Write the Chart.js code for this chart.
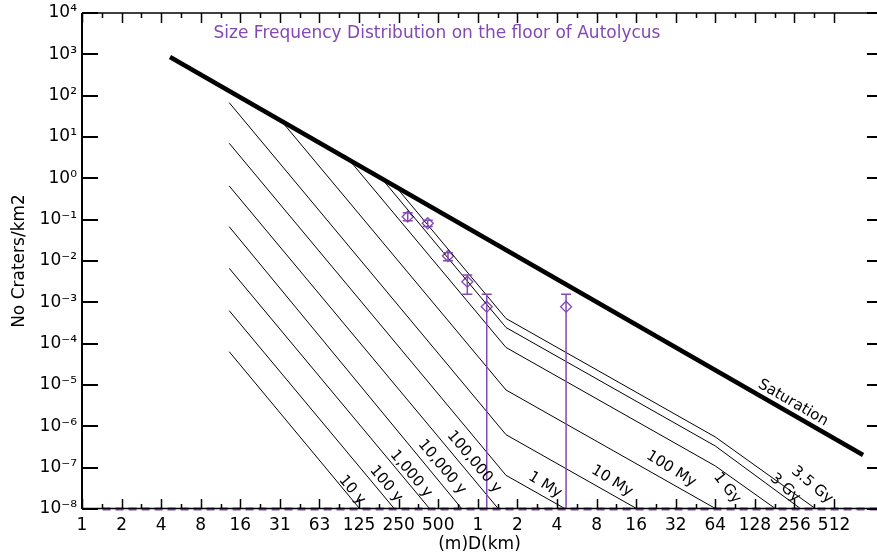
<!DOCTYPE html>
<html>
<head>
<meta charset="utf-8">
<title>Size Frequency Distribution on the floor of Autolycus</title>
<script src="https://cdn.jsdelivr.net/npm/chart.js@4.4.0/dist/chart.umd.min.js"></script>
<style>
  html, body { margin: 0; padding: 0; background: #fff; }
  #sfd { display: block; }
</style>
</head>
<body>
<canvas id="sfd" width="877" height="558"></canvas>
<script>
// crater diameter in km on x, cumulative craters per km2 on y

// axis ticks
var xTickKm = [1/1024, 1/512, 1/256, 1/128, 1/64, 1/32, 1/16, 1/8, 1/4, 1/2, 1, 2, 4, 8, 16, 32, 64, 128, 256, 512];
var xTickLabels = ['1', '2', '4', '8', '16', '31', '63', '125', '250', '500', '1', '2', '4', '8', '16', '32', '64', '128', '256', '512'];
var yTickValues = [1e-8, 1e-7, 1e-6, 1e-5, 1e-4, 1e-3, 1e-2, 1e-1, 1, 10, 100, 1000, 10000];
var yTickLabels = ['10⁻⁸', '10⁻⁷', '10⁻⁶', '10⁻⁵', '10⁻⁴', '10⁻³', '10⁻²', '10⁻¹', '10⁰', '10¹', '10²', '10³', '10⁴'];

// saturation equilibrium
var satD = [0.00456, 851];
var satN = [863, 2.03e-7];

// isochrons
var iso10yD = [0.01286, 0.1269];
var iso10yN = [6.4e-5, 1e-8];
var iso100yD = [0.01286, 0.2328];
var iso100yN = [6.28e-4, 1e-8];
var iso1kyD = [0.01286, 0.432];
var iso1kyN = [6.67e-3, 1e-8];
var iso10kyD = [0.01286, 0.758];
var iso10kyN = [0.0676, 1e-8];
var iso100kyD = [0.01286, 1.437];
var iso100kyN = [0.653, 1e-8];
var iso1MyD = [0.01286, 1.638, 4.65];
var iso1MyN = [7.05, 6.53e-8, 1e-8];
var iso10MyD = [0.01286, 1.638, 16.34];
var iso10MyN = [67.7, 6.28e-7, 1e-8];
var iso100MyD = [0.0314, 1.638, 64];
var iso100MyN = [26.5, 7.57e-6, 1.03e-8];
var iso1GyD = [0.0977, 1.638, 64, 185];
var iso1GyN = [3.7, 8.09e-5, 1.1e-7, 1e-8];
var iso3GyD = [0.187, 1.638, 64, 287];
var iso3GyN = [0.964, 2.46e-4, 3.34e-7, 1e-8];
var iso35GyD = [0.243, 1.638, 64, 373];
var iso35GyN = [0.58, 4.06e-4, 5.52e-7, 1e-8];

// counted craters on the floor (0 = lower bar runs off the axis)
var obsD = [0.293, 0.416, 0.593, 0.832, 1.169, 4.69];
var obsN = [0.118, 0.0819, 0.0132, 3.16e-3, 7.85e-4, 7.85e-4];
var obsHi = [0.148, 0.097, 0.0159, 4.59e-3, 1.57e-3, 1.57e-3];
var obsLo = [0.094, 0.0686, 0.0102, 1.57e-3, 0, 0];

// empty bins lying on the bottom axis
var emptyD = [0.0014, 1086];
var emptyN = [1e-8, 1e-8];

var purple = '#8448b4';
var font = '"DejaVu Sans", "Liberation Sans", sans-serif';

function pts(D, N) {
  return D.map(function (d, i) { return { x: d, y: N[i] }; });
}

function curve(D, N, width) {
  return {
    data: pts(D, N),
    borderColor: '#000',
    borderWidth: width,
    pointRadius: 0,
    tension: 0,
    fill: false
  };
}

// where the curve names are written, in data units
var curveLabels = [
  { text: '10 y', D: 0.1104, N: 2.88e-8, angle: 50 },
  { text: '100 y', D: 0.2004, N: 4.03e-8, angle: 50 },
  { text: '1,000 y', D: 0.310, N: 7.03e-8, angle: 50 },
  { text: '10,000 y', D: 0.534, N: 1.04e-7, angle: 50 },
  { text: '100,000 y', D: 0.936, N: 1.37e-7, angle: 50 },
  { text: '1 My', D: 3.24, N: 3.81e-8, angle: 32 },
  { text: '10 My', D: 10.49, N: 4.76e-8, angle: 32 },
  { text: '100 My', D: 29.5, N: 9.29e-8, angle: 32 },
  { text: '1 Gy', D: 78.6, N: 3.22e-8, angle: 52 },
  { text: '3 Gy', D: 217, N: 3.22e-8, angle: 42 },
  { text: '3.5 Gy', D: 348, N: 3.81e-8, angle: 40 },
  { text: 'Saturation', D: 250, N: 3.67e-6, angle: 30 }
];

var errorBars = {
  id: 'errorBars',
  afterDatasetsDraw: function (chart) {
    var ctx = chart.ctx, xs = chart.scales.x, ys = chart.scales.y, area = chart.chartArea;
    ctx.save();
    ctx.strokeStyle = purple;
    ctx.lineWidth = 1.5;
    obsD.forEach(function (d, i) {
      var x = xs.getPixelForValue(d);
      var top = ys.getPixelForValue(obsHi[i]);
      var bot = obsLo[i] > 0 ? ys.getPixelForValue(obsLo[i]) : area.bottom;
      ctx.beginPath();
      ctx.moveTo(x, top); ctx.lineTo(x, bot);
      ctx.moveTo(x - 5, top); ctx.lineTo(x + 5, top);
      if (obsLo[i] > 0) { ctx.moveTo(x - 5, bot); ctx.lineTo(x + 5, bot); }
      ctx.stroke();
    });
    ctx.restore();
  }
};

var frame = {
  id: 'frame',
  afterDatasetsDraw: function (chart) {
    var ctx = chart.ctx, xs = chart.scales.x, ys = chart.scales.y, a = chart.chartArea;
    ctx.save();
    ctx.strokeStyle = '#000';
    // axis lines
    ctx.lineWidth = 2;
    ctx.beginPath();
    ctx.moveTo(a.left, a.top); ctx.lineTo(a.left, a.bottom);
    ctx.stroke();
    ctx.lineWidth = 1.5;
    ctx.beginPath();
    ctx.moveTo(a.left, a.bottom - 0.5); ctx.lineTo(a.right, a.bottom - 0.5);
    ctx.moveTo(a.left, a.top); ctx.lineTo(a.right, a.top);
    ctx.stroke();
    // x ticks, top and bottom
    ctx.lineWidth = 1.5;
    ctx.beginPath();
    xTickKm.forEach(function (v, i) {
      var x = Math.round(xs.getPixelForValue(v)) + 0.5;
      ctx.moveTo(x, a.bottom); ctx.lineTo(x, a.bottom - 10);
      ctx.moveTo(x, a.top); ctx.lineTo(x, a.top + 10);
      if (i < xTickKm.length - 1) {
        var m = Math.round(xs.getPixelForValue(Math.sqrt(v * xTickKm[i + 1]))) + 0.5;
        ctx.moveTo(m, a.bottom); ctx.lineTo(m, a.bottom - 5);
        ctx.moveTo(m, a.top); ctx.lineTo(m, a.top + 5);
      }
    });
    ctx.stroke();
    // y ticks, left and right
    ctx.lineWidth = 2;
    ctx.beginPath();
    yTickValues.forEach(function (v) {
      var y = Math.round(ys.getPixelForValue(v));
      ctx.moveTo(a.left, y); ctx.lineTo(a.left + 16, y);
      ctx.moveTo(a.right - 10, y); ctx.lineTo(a.right, y);
    });
    ctx.stroke();

    // title inside the plot
    ctx.fillStyle = purple;
    ctx.font = '17px ' + font;
    ctx.textAlign = 'center';
    ctx.textBaseline = 'alphabetic';
    ctx.fillText('Size Frequency Distribution on the floor of Autolycus', a.left + 355, a.top + 25);

    // curve names
    ctx.fillStyle = '#000';
    ctx.font = '15px ' + font;
    ctx.textBaseline = 'middle';
    curveLabels.forEach(function (l) {
      ctx.save();
      ctx.translate(xs.getPixelForValue(l.D), ys.getPixelForValue(l.N));
      ctx.rotate(l.angle * Math.PI / 180);
      ctx.fillText(l.text, 0, 0);
      ctx.restore();
    });
    ctx.restore();
  }
};

var datasets = [
  {
    data: pts(emptyD, emptyN),
    borderColor: purple,
    borderWidth: 3,
    borderDash: [8, 5],
    clip: 3,
    pointRadius: 0,
    fill: false
  },
  curve(satD, satN, 4.5),
  curve(iso10yD, iso10yN, 1),
  curve(iso100yD, iso100yN, 1),
  curve(iso1kyD, iso1kyN, 1),
  curve(iso10kyD, iso10kyN, 1),
  curve(iso100kyD, iso100kyN, 1),
  curve(iso1MyD, iso1MyN, 1),
  curve(iso10MyD, iso10MyN, 1),
  curve(iso100MyD, iso100MyN, 1),
  curve(iso1GyD, iso1GyN, 1),
  curve(iso3GyD, iso3GyN, 1),
  curve(iso35GyD, iso35GyN, 1),
  {
    data: pts(obsD, obsN),
    showLine: false,
    pointStyle: 'rectRot',
    pointRadius: 5.5,
    pointBorderWidth: 1.3,
    pointBorderColor: purple,
    pointBackgroundColor: 'rgba(0,0,0,0)',
    borderColor: purple
  }
];

new Chart(document.getElementById('sfd'), {
  type: 'line',
  data: { datasets: datasets },
  plugins: [errorBars, frame],
  options: {
    responsive: false,
    animation: false,
    devicePixelRatio: 1,
    layout: { autoPadding: false, padding: { top: 13, right: 0, bottom: 0, left: 0 } },
    plugins: { legend: { display: false }, tooltip: { enabled: false } },
    scales: {
      x: {
        type: 'logarithmic',
        min: 1 / 1024,
        max: 1086,
        grid: { display: false, drawTicks: false },
        border: { display: false },
        afterBuildTicks: function (scale) {
          scale.ticks = xTickKm.map(function (v) { return { value: v }; });
        },
        afterFit: function (scale) {
          scale.height = 49;
          scale.paddingLeft = 0;
          scale.paddingRight = 0;
        },
        ticks: {
          autoSkip: false,
          maxRotation: 0,
          padding: 6,
          color: '#000',
          font: { family: font, size: 17 },
          callback: function (value, index) { return xTickLabels[index]; }
        },
        title: {
          display: true,
          text: '(m)D(km)',
          color: '#000',
          font: { family: font, size: 17 },
          padding: { top: 0, bottom: 3 }
        }
      },
      y: {
        type: 'logarithmic',
        min: 1e-8,
        max: 1e4,
        grid: { display: false, drawTicks: false },
        border: { display: false },
        afterBuildTicks: function (scale) {
          scale.ticks = yTickValues.map(function (v) { return { value: v }; });
        },
        afterFit: function (scale) {
          scale.width = 82;
          scale.paddingTop = 0;
          scale.paddingBottom = 0;
        },
        ticks: {
          autoSkip: false,
          padding: 5,
          color: '#000',
          font: { family: font, size: 17 },
          callback: function (value, index) { return yTickLabels[index]; }
        },
        title: {
          display: true,
          text: 'No Craters/km2',
          color: '#000',
          font: { family: font, size: 17 },
          padding: { top: 9, bottom: 0 }
        }
      }
    }
  }
});
</script>
</body>
</html>
